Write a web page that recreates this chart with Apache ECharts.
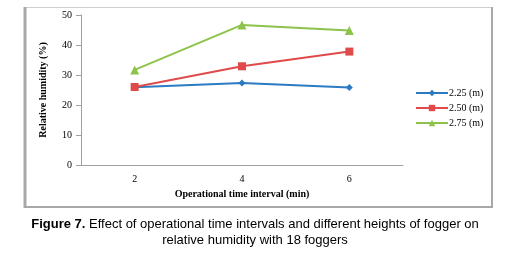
<!DOCTYPE html>
<html>
<head>
<meta charset="utf-8">
<script src="https://cdn.jsdelivr.net/npm/echarts@6/dist/echarts.min.js"></script>
<style>
  html, body { margin: 0; padding: 0; background: #fff; }
  #main { width: 510px; height: 257px; }
</style>
</head>
<body>
<div id="main"></div>
<script>
var categories = ['2', '4', '6'];
var h225 = [25.9, 27.3, 25.8];
var h250 = [26.0, 32.9, 37.8];
var h275 = [31.7, 46.7, 44.8];
var seriesNames = ['2.25 (m)', '2.50 (m)', '2.75 (m)'];

var chart = echarts.init(document.getElementById('main'));

var serif = '"Liberation Serif", "Times New Roman", serif';
var sans = '"Liberation Sans", Arial, sans-serif';

var option = {
    animation: false,
    graphic: [
        // chart frame
        { type: 'rect', shape: { x: 24.5, y: 7.5, width: 467, height: 199 }, style: { fill: 'none', stroke: '#d0d0d0', lineWidth: 1 }, z: -1 },
        { type: 'line', shape: { x1: 25, y1: 7, x2: 25, y2: 208 }, style: { stroke: '#a8a8a8', lineWidth: 3 }, z: -1 },
        { type: 'line', shape: { x1: 492, y1: 7, x2: 492, y2: 208 }, style: { stroke: '#a8a8a8', lineWidth: 2 }, z: -1 },
        { type: 'line', shape: { x1: 24, y1: 207, x2: 493, y2: 207 }, style: { stroke: '#a8a8a8', lineWidth: 2 }, z: -1 },
        // caption
        {
            type: 'text', x: 255, y: 216,
            style: {
                text: '{b|Figure 7.} Effect of operational time intervals and different heights of fogger on\nrelative humidity with 18 foggers',
                align: 'center', verticalAlign: 'top',
                font: '13px ' + sans, fill: '#000', lineHeight: 16,
                rich: {
                    b: { fontFamily: sans, fontSize: 13, fontWeight: 'bold', fill: '#000', lineHeight: 16 }
                }
            }
        }
    ],
    legend: {
        orient: 'vertical',
        left: 410,
        top: 83,
        itemWidth: 32,
        itemHeight: 8,
        itemGap: 5,
        data: seriesNames,
        textStyle: { fontFamily: serif, fontSize: 10, color: '#000', padding: [0, 0, 0, -4] }
    },
    grid: { left: 81, right: 107, top: 15, bottom: 92 },
    xAxis: {
        type: 'category',
        data: categories,
        boundaryGap: true,
        name: 'Operational time interval (min)',
        nameLocation: 'middle',
        nameGap: 24,
        nameTextStyle: { fontFamily: serif, fontSize: 10, fontWeight: 'bold', color: '#000' },
        axisLine: { lineStyle: { color: '#a0a0a0', width: 1 } },
        axisTick: { show: false },
        axisLabel: { fontFamily: serif, fontSize: 10, color: '#000', margin: 9 }
    },
    yAxis: {
        type: 'value',
        min: 0,
        max: 50,
        interval: 10,
        name: 'Relative humidity (%)',
        nameLocation: 'middle',
        nameGap: 33,
        nameTextStyle: { fontFamily: serif, fontSize: 10, fontWeight: 'bold', color: '#000' },
        splitLine: { show: false },
        axisLine: { show: true, lineStyle: { color: '#a0a0a0', width: 1 } },
        axisTick: { show: true, inside: false, length: 5, lineStyle: { color: '#a0a0a0' } },
        axisLabel: { fontFamily: serif, fontSize: 10, color: '#000', margin: 9 }
    },
    series: [
        {
            name: seriesNames[0], type: 'line', data: h225,
            symbol: 'diamond', symbolSize: 7,
            lineStyle: { color: '#2a7bc2', width: 2 },
            itemStyle: { color: '#2a7bc2' }
        },
        {
            name: seriesNames[1], type: 'line', data: h250,
            symbol: 'rect', symbolSize: 8,
            lineStyle: { color: '#e04a4a', width: 2 },
            itemStyle: { color: '#e04a4a' }
        },
        {
            name: seriesNames[2], type: 'line', data: h275,
            symbol: 'triangle', symbolSize: 9,
            lineStyle: { color: '#8dc34a', width: 2 },
            itemStyle: { color: '#8dc34a' }
        }
    ]
};

chart.setOption(option);
</script>
</body>
</html>
